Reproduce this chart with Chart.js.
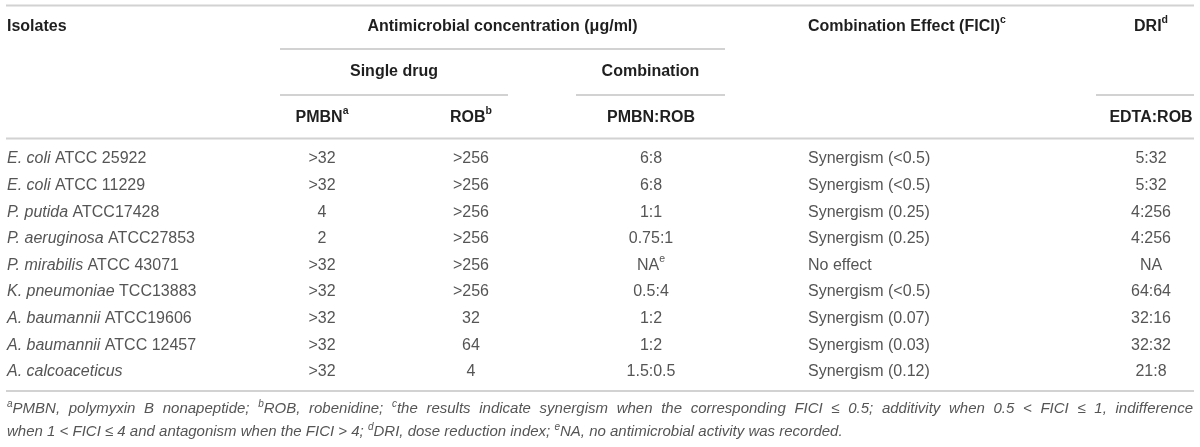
<!DOCTYPE html>
<html><head><meta charset="utf-8">
<script src="https://cdn.jsdelivr.net/npm/chart.js@4.4.1/dist/chart.umd.min.js"></script>
<style>html,body{margin:0;padding:0;background:#fff;overflow:hidden}</style>
</head><body>
<canvas id="c" width="1200" height="447"></canvas>
<script>
// ---- table data ----
const species = ["E. coli","E. coli","P. putida","P. aeruginosa","P. mirabilis","K. pneumoniae","A. baumannii","A. baumannii","A. calcoaceticus"];
const strains = ["ATCC 25922","ATCC 11229","ATCC17428","ATCC27853","ATCC 43071","TCC13883","ATCC19606","ATCC 12457",""];
const pmbnSingle = [">32",">32","4","2",">32",">32",">32",">32",">32"];
const robSingle = [">256",">256",">256",">256",">256",">256","32","64","4"];
const pmbnRobCombo = ["6:8","6:8","1:1","0.75:1","NA","0.5:4","1:2","1:2","1.5:0.5"];
const comboNote = ["","","","","e","","","",""];
const combinationEffect = ["Synergism (<0.5)","Synergism (<0.5)","Synergism (0.25)","Synergism (0.25)","No effect","Synergism (<0.5)","Synergism (0.07)","Synergism (0.03)","Synergism (0.12)"];
const driEdtaRob = ["5:32","5:32","4:256","4:256","NA","64:64","32:16","32:32","21:8"];
const isolateLabels = species.map((s,i)=> strains[i] ? s + " " + strains[i] : s);

// ---- layout / style ----
const FAM = '"Liberation Sans", Arial, Helvetica, sans-serif';
const F = {
  hdr: 'bold 16px ' + FAM, hdrSup: 'bold 10.5px ' + FAM,
  cell: '16px ' + FAM, cellI: 'italic 16px ' + FAM, cellSup: '10.5px ' + FAM,
  foot: 'italic 15px ' + FAM, footSup: 'italic 10px ' + FAM
};
const C_HDR = '#1f1f1f', C_CELL = '#555555', C_RULE = '#d2d2d2';
const COL = { iso: 7, pmbn: 322, rob: 471, combo: 651, effect: 808, dri: 1151 };

function seg(t, font, color, dy){ return {t, font, color: color || C_CELL, dy: dy || 0}; }
function richWidth(ctx, segs){ let w=0; segs.forEach(s=>{ctx.font=s.font; w+=ctx.measureText(s.t).width;}); return w; }
function drawRich(ctx, segs, x, y, align){
  const w = richWidth(ctx, segs);
  let cx = align==='center' ? x - w/2 : (align==='right' ? x - w : x);
  ctx.textAlign='left'; ctx.textBaseline='middle';
  segs.forEach(s=>{ ctx.font=s.font; ctx.fillStyle=s.color; ctx.fillText(s.t, cx, y + s.dy); cx += ctx.measureText(s.t).width; });
}
function drawJustified(ctx, segs, x0, x1, y){
  const toks=[];
  segs.forEach(s=>{ s.t.split(/( )/).forEach(p=>{ if(p!=='') toks.push({...s, t:p, sp: p===' '}); }); });
  let nat=0, nsp=0;
  toks.forEach(t=>{ ctx.font=t.font; nat+=ctx.measureText(t.t).width; if(t.sp) nsp++; });
  const extra = nsp ? Math.max(0,(x1-x0-nat)/nsp) : 0;
  let cx=x0; ctx.textAlign='left'; ctx.textBaseline='middle';
  toks.forEach(t=>{ ctx.font=t.font; ctx.fillStyle=t.color; if(!t.sp) ctx.fillText(t.t,cx,y+t.dy); cx+=ctx.measureText(t.t).width + (t.sp?extra:0); });
}

const cellSegs = {
  iso: i => [seg(species[i], F.cellI), seg(strains[i] ? ' ' + strains[i] : '', F.cell)],
  pmbn: i => [seg(pmbnSingle[i], F.cell)],
  rob: i => [seg(robSingle[i], F.cell)],
  combo: i => comboNote[i] ? [seg(pmbnRobCombo[i], F.cell), seg(comboNote[i], F.cellSup, C_CELL, -6)] : [seg(pmbnRobCombo[i], F.cell)],
  effect: i => [seg(combinationEffect[i], F.cell)],
  dri: i => [seg(driEdtaRob[i], F.cell)]
};
const colAlign = { iso:'left', pmbn:'center', rob:'center', combo:'center', effect:'left', dri:'center' };

const tablePlugin = {
  id: 'tablePlugin',
  afterDatasetsDraw(chart){
    const ctx = chart.ctx;
    ctx.save();
    // body cells, positioned by the scales
    chart.data.datasets.forEach((ds, di)=>{
      const meta = chart.getDatasetMeta(di);
      meta.data.forEach((el, i)=>{ drawRich(ctx, cellSegs[ds.colKey](i), el.x, el.y, colAlign[ds.colKey]); });
    });
    const xs = chart.scales.x;
    const px = v => xs.getPixelForValue(v);
    // rules
    ctx.strokeStyle = C_RULE; ctx.lineWidth = 2;
    const rule = (a,b,y)=>{ ctx.beginPath(); ctx.moveTo(px(a), y); ctx.lineTo(px(b), y); ctx.stroke(); };
    rule(6,1194,5.5); rule(280,725,49); rule(280,508,95); rule(576,725,95); rule(1096,1194,95);
    rule(6,1194,138.5); rule(6,1194,391);
    // header
    const H = (t)=>seg(t, F.hdr, C_HDR), HS = (t)=>seg(t, F.hdrSup, C_HDR, -6.5);
    drawRich(ctx, [H('Isolates')], px(COL.iso), 27, 'left');
    drawRich(ctx, [H('Antimicrobial concentration (\u03bcg/ml)')], px(502.5), 27, 'center');
    drawRich(ctx, [H('Combination Effect (FICI)'), HS('c')], px(COL.effect), 27, 'left');
    drawRich(ctx, [H('DRI'), HS('d')], px(COL.dri), 27, 'center');
    drawRich(ctx, [H('Single drug')], px(394), 72, 'center');
    drawRich(ctx, [H('Combination')], px(650.5), 72, 'center');
    drawRich(ctx, [H('PMBN'), HS('a')], px(COL.pmbn), 118, 'center');
    drawRich(ctx, [H('ROB'), HS('b')], px(COL.rob), 118, 'center');
    drawRich(ctx, [H('PMBN:ROB')], px(COL.combo), 118, 'center');
    drawRich(ctx, [H('EDTA:ROB')], px(COL.dri), 118, 'center');
    // footnotes
    const T = t=>seg(t, F.foot), S = t=>seg(t, F.footSup, C_CELL, -5);
    drawJustified(ctx, [S('a'), T('PMBN, polymyxin B nonapeptide; '), S('b'), T('ROB, robenidine; '), S('c'),
      T('the results indicate synergism when the corresponding FICI \u2264 0.5; additivity when 0.5 < FICI \u2264 1, indifference')], px(7), px(1193), 409);
    drawRich(ctx, [T('when 1 < FICI \u2264 4 and antagonism when the FICI > 4; '), S('d'), T('DRI, dose reduction index; '), S('e'),
      T('NA, no antimicrobial activity was recorded.')], px(7), 432, 'left');
    ctx.restore();
  }
};

const colKeys = ['iso','pmbn','rob','combo','effect','dri'];
new Chart(document.getElementById('c'), {
  type: 'scatter',
  data: {
    labels: isolateLabels,
    datasets: colKeys.map(k => ({
      label: k, colKey: k,
      data: isolateLabels.map(l => ({ x: COL[k], y: l })),
      pointRadius: 0, pointHoverRadius: 0, showLine: false
    }))
  },
  options: {
    responsive: false, animation: false, events: [],
    layout: { padding: { left: 0, right: 0, top: 145.7, bottom: 61.9 } },
    scales: {
      x: { type: 'linear', min: 0, max: 1200, display: false },
      y: { type: 'category', labels: isolateLabels, offset: true, display: false }
    },
    plugins: { legend: { display: false }, tooltip: { enabled: false }, title: { display: false } }
  },
  plugins: [tablePlugin]
});
</script>
</body></html>
